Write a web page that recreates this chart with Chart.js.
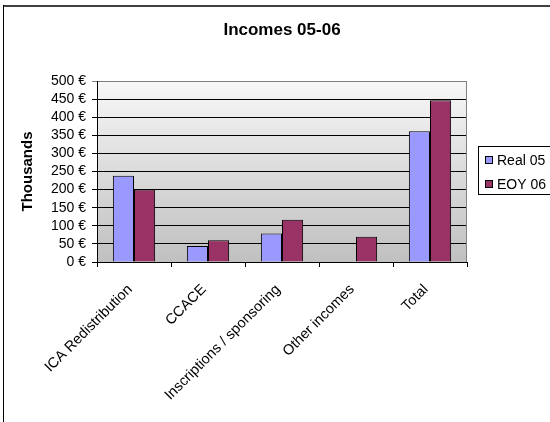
<!DOCTYPE html>
<html>
<head>
<meta charset="utf-8">
<script src="https://cdn.jsdelivr.net/npm/chart.js@4/dist/chart.umd.min.js"></script>
<style>
    body { margin: 0; background: #fff; }
    #wrap { width: 550px; height: 422px; }
</style>
</head>
<body>
<div id="wrap"><canvas id="chart-incomes" width="550" height="422"></canvas></div>
<script>
    // values (thousands of euros)
    const categories = ['ICA Redistribution', 'CCACE', 'Inscriptions / sponsoring', 'Other incomes', 'Total'];
    const real05 = [238, 44, 79, null, 361];
    const eoy06 = [200, 60, 117, 70, 447];
    const seriesNames = ['Real 05', 'EOY 06'];
    const yMax = 500;
    const yStep = 50;

    const FONT = "'Liberation Sans', Arial, sans-serif";

    // frame, plot background and right border, title, legend box
    const excelLook = {
        id: 'excelLook',
        beforeDraw(chart) {
            const { ctx, chartArea: a } = chart;
            ctx.save();
            ctx.fillStyle = '#fff';
            ctx.fillRect(0, 0, chart.width, chart.height);
            const g = ctx.createLinearGradient(0, a.top, 0, a.bottom);
            g.addColorStop(0, '#f7f7f7');
            g.addColorStop(1, '#c0c0c0');
            ctx.fillStyle = g;
            ctx.fillRect(a.left, a.top, a.right - a.left, a.bottom - a.top);
            ctx.restore();
        },
        afterDraw(chart) {
            const { ctx, chartArea: a } = chart;
            ctx.save();
            // outer frame (only top and left are visible)
            ctx.strokeStyle = '#404040';
            ctx.lineWidth = 2;
            ctx.beginPath();
            ctx.moveTo(3, 6);
            ctx.lineTo(chart.width, 6);
            ctx.stroke();
            ctx.strokeStyle = '#000';
            ctx.lineWidth = 1;
            ctx.beginPath();
            ctx.moveTo(3.5, 5);
            ctx.lineTo(3.5, chart.height);
            ctx.stroke();
            // right border of plot area
            ctx.strokeStyle = '#808080';
            ctx.beginPath();
            ctx.moveTo(Math.round(a.right) - 0.5, a.top);
            ctx.lineTo(Math.round(a.right) - 0.5, a.bottom);
            ctx.stroke();
            // title
            ctx.fillStyle = '#000';
            ctx.font = 'bold 17px ' + FONT;
            ctx.textAlign = 'center';
            ctx.textBaseline = 'middle';
            ctx.fillText('Incomes 05-06', 282, 30);
            // legend
            ctx.fillStyle = '#fff';
            ctx.fillRect(478.5, 146.5, 90, 48);
            ctx.strokeStyle = '#000';
            ctx.strokeRect(478.5, 146.5, 90, 48);
            ctx.font = '14px ' + FONT;
            ctx.textAlign = 'left';
            chart.data.datasets.forEach((ds, i) => {
                const y = 160 + i * 24;
                ctx.fillStyle = ds.backgroundColor;
                ctx.fillRect(485.5, y - 3.5, 7, 7);
                ctx.strokeRect(485.5, y - 3.5, 7, 7);
                ctx.fillStyle = '#000';
                ctx.fillText(ds.label, 497, y + 1);
            });
            ctx.restore();
        }
    };

    const ctx = document.getElementById('chart-incomes').getContext('2d');
    new Chart(ctx, {
        type: 'bar',
        data: {
            labels: categories,
            datasets: [{
                label: seriesNames[0],
                data: real05,
                backgroundColor: '#9999ff',
                borderColor: '#000',
                borderWidth: 1,
                borderSkipped: 'bottom'
            }, {
                label: seriesNames[1],
                data: eoy06,
                backgroundColor: '#993366',
                borderColor: '#000',
                borderWidth: 1,
                borderSkipped: 'bottom'
            }]
        },
        options: {
            responsive: false,
            animation: false,
            devicePixelRatio: 1,
            layout: { padding: { left: 0, top: 81, right: 83, bottom: 0 } },
            datasets: { bar: { barPercentage: 1, categoryPercentage: 0.571 } },
            plugins: {
                legend: { display: false },
                title: { display: false },
                tooltip: { enabled: false }
            },
            scales: {
                x: {
                    afterFit(scale) { scale.height = 160; },
                    grid: {
                        offset: true,
                        drawOnChartArea: false,
                        color: '#000',
                        tickLength: 5
                    },
                    border: { color: '#000' },
                    ticks: {
                        autoSkip: false,
                        minRotation: 45,
                        maxRotation: 45,
                        padding: 14,
                        labelOffset: -4,
                        color: '#000',
                        font: { family: FONT, size: 14.5 }
                    }
                },
                y: {
                    min: 0,
                    max: yMax,
                    afterFit(scale) { scale.width = 97; },
                    grid: {
                        color: c => (c.tick && c.tick.value === yMax ? '#808080' : '#000'),
                        tickLength: 5
                    },
                    border: { color: '#000' },
                    ticks: {
                        stepSize: yStep,
                        autoSkip: false,
                        padding: 6,
                        color: '#000',
                        font: { family: FONT, size: 14 },
                        callback: v => v + ' €'
                    },
                    title: {
                        display: true,
                        text: 'Thousands',
                        color: '#000',
                        font: { family: FONT, size: 15, weight: 'bold' },
                        padding: { top: 19, bottom: 0 }
                    }
                }
            }
        },
        plugins: [excelLook]
    });
</script>
</body>
</html>
